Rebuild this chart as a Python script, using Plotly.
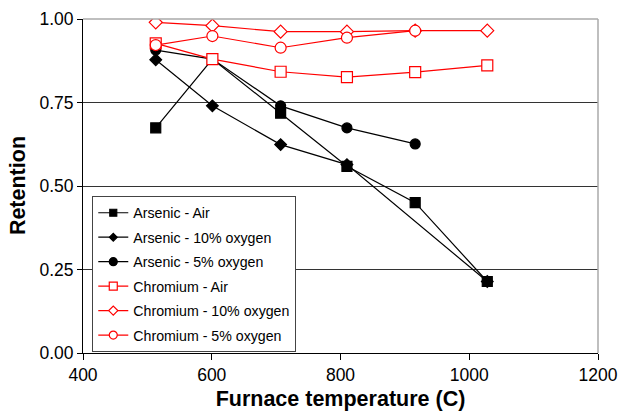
import plotly.graph_objects as go

temps = [513, 601, 707, 810, 916, 1028]
temps_as10 = [513, 601, 707, 810, 1028]
temps_as5 = [513, 601, 707, 810, 916]
temps_cr5 = [513, 601, 707, 810, 916]

as_air = [0.674, 0.880, 0.718, 0.559, 0.450, 0.214]
as_10 = [0.878, 0.740, 0.624, 0.564, 0.214]
as_5 = [0.907, 0.880, 0.740, 0.674, 0.626]
cr_air = [0.927, 0.880, 0.842, 0.826, 0.841, 0.861]
cr_10 = [0.990, 0.980, 0.962, 0.962, 0.965, 0.965]
cr_5 = [0.922, 0.949, 0.914, 0.944, 0.965]

series = [
    ("Arsenic - Air", temps, as_air, "black", "black", "square", 10, 7),
    ("Arsenic - 10% oxygen", temps_as10, as_10, "black", "black", "diamond", 9, 6),
    ("Arsenic - 5% oxygen", temps_as5, as_5, "black", "black", "circle", 10, 8),
    ("Chromium - Air", temps, cr_air, "red", "white", "square", 11, 8),
    ("Chromium - 10% oxygen", temps, cr_10, "red", "white", "diamond", 10, 7),
    ("Chromium - 5% oxygen", temps_cr5, cr_5, "red", "white", "circle", 11, 8),
]

fig = go.Figure()
for i, (name, x, y, col, fill, sym, sz, lsz) in enumerate(series):
    fig.add_trace(go.Scatter(
        x=x, y=y, name=name, mode="lines+markers", legendgroup=f"g{i}",
        showlegend=False,
        line=dict(color=col, width=1.2),
        marker=dict(symbol=sym, size=sz, color=fill, line=dict(color=col, width=1.2)),
    ))
for i, (name, x, y, col, fill, sym, sz, lsz) in enumerate(series):
    fig.add_trace(go.Scatter(
        x=[None], y=[None], name=name, mode="lines+markers", legendgroup=f"g{i}",
        line=dict(color=col, width=1.2),
        marker=dict(symbol=sym, size=lsz, color=fill, line=dict(color=col, width=1.2)),
    ))

fig.update_layout(
    width=623, height=412,
    margin=dict(l=83, r=25, t=19, b=59, autoexpand=False),
    paper_bgcolor="white", plot_bgcolor="white",
    font=dict(family="Liberation Sans, Arial, sans-serif", color="black"),
    showlegend=True,
    legend=dict(
        x=0.018, y=0.47, xanchor="left", yanchor="top",
        bordercolor="#444", borderwidth=1, bgcolor="white",
        font=dict(size=14.2, color="black"),
        tracegroupgap=3, itemwidth=30,
    ),
    xaxis=dict(
        range=[400, 1200], tickvals=[400, 600, 800, 1000, 1200],
        ticks="outside", ticklen=6, tickcolor="black",
        showline=True, linecolor="black", linewidth=1, mirror=False,
        showgrid=False, zeroline=False, automargin=False,
        tickfont=dict(size=17.5),
        title=dict(text="<b>Furnace temperature (C)</b>", font=dict(size=21.5), standoff=6),
    ),
    yaxis=dict(
        range=[0, 1.0], tickvals=[0, 0.25, 0.5, 0.75, 1.0],
        ticktext=["0.00", "0.25", "0.50", "0.75", "1.00"],
        ticks="outside", ticklen=5, tickcolor="black",
        showline=True, linecolor="black", linewidth=1,
        showgrid=True, gridcolor="#333", gridwidth=1,
        zeroline=False, automargin=False,
        tickfont=dict(size=17.5),
    ),
    annotations=[dict(
        text="<b>Retention</b>", xref="paper", yref="paper",
        x=-0.126, y=0.5, xanchor="center", yanchor="middle",
        textangle=-90, showarrow=False, font=dict(size=21.5),
    )],
)
fig.add_shape(type="line", xref="paper", yref="paper", x0=0, x1=1, y0=1, y1=1,
              line=dict(color="#aaa", width=1.5))
fig.add_shape(type="line", xref="paper", yref="paper", x0=1, x1=1, y0=0, y1=1,
              line=dict(color="#aaa", width=1.5))

fig.write_html("out.html")
